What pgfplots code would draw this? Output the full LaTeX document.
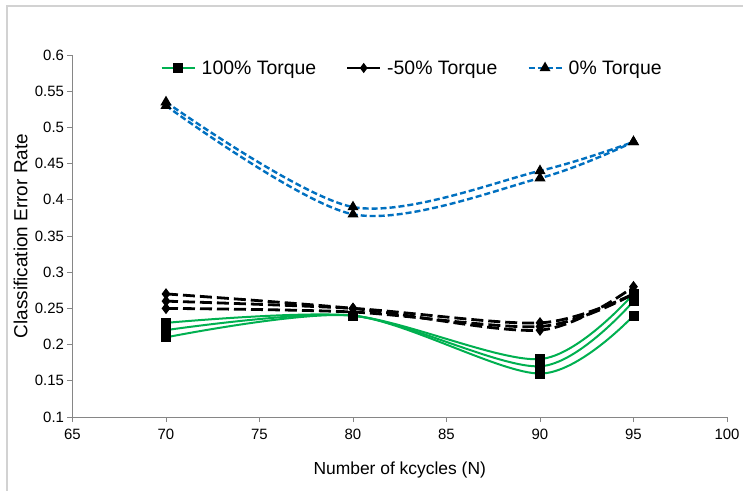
\documentclass[border=0pt]{standalone}
\usepackage{pgfplots}
\pgfplotsset{compat=1.18}
\usepackage{fontspec}
\setmainfont{Liberation Sans}

\definecolor{grnline}{RGB}{0,176,80}
\definecolor{blueline}{RGB}{0,112,192}
\definecolor{axisgray}{RGB}{134,134,134}

\begin{document}
\begin{tikzpicture}
\path[use as bounding box] (-72.5bp,-74bp) rectangle (670.5bp,417bp);
% outer chart frame
\draw[gray!35, line width=1.2bp] (-65.5bp,-90bp) -- (-65.5bp,411bp) -- (690bp,411bp);
\begin{axis}[
  scale only axis, width=654.5bp, height=362bp,
  at={(0,0)}, anchor=south west,
  xmin=65, xmax=100, ymin=0.1, ymax=0.6,
  xtick={65,70,75,80,85,90,95,100},
  ytick={0.1,0.15,0.2,0.25,0.3,0.35,0.4,0.45,0.5,0.55,0.6},
  axis x line*=bottom, axis y line*=left,
  axis line style={draw=axisgray, line width=0.9bp, -},
  tick align=outside, major tick length=5bp,
  tick style={draw=axisgray, line width=0.8bp},
  /pgf/number format/assume math mode=true,
  yticklabel style={/pgf/number format/fixed, /pgf/number format/precision=2, font=\fontsize{15}{15}\selectfont},
  xticklabel style={font=\fontsize{15}{15}\selectfont, yshift=-4bp},
  xlabel={Number of kcycles (N)},
  ylabel={Classification Error Rate},
  x label style={at={(axis description cs:0.5,-0.1464)}, anchor=center, font=\fontsize{17.5}{17.5}\selectfont},
  y label style={at={(axis description cs:-0.0794,0.5)}, anchor=center, rotate=0, font=\fontsize{19}{19}\selectfont},
  legend columns=3,
  legend style={at={(axis description cs:0.519,0.964)}, anchor=center, draw=none, fill=none,
    font=\fontsize{19.5}{19.5}\selectfont,
    /tikz/every odd column/.append style={column sep=4bp},
    /tikz/every even column/.append style={column sep=28bp}},
  legend image code/.code={%
    \draw[mark repeat=2, mark phase=2, #1] plot coordinates {(0bp,0bp) (16.5bp,0bp) (33bp,0bp)};},
]
% 100% Torque
\addplot[grnline, line width=2bp, smooth, mark=square*, mark size=4bp, mark options={black, fill=black, solid}]
  coordinates {(70,0.21) (80,0.24) (90,0.16) (95,0.24)};
\addlegendentry{100\% Torque}
\addplot[grnline, line width=2bp, smooth, mark=square*, mark size=4bp, mark options={black, fill=black, solid}, forget plot]
  coordinates {(70,0.22) (80,0.24) (90,0.17) (95,0.26)};
\addplot[grnline, line width=2bp, smooth, mark=square*, mark size=4bp, mark options={black, fill=black, solid}, forget plot]
  coordinates {(70,0.23) (80,0.24) (90,0.18) (95,0.27)};
% -50% Torque
\addplot[black, line width=2.8bp, smooth, dash pattern=on 12bp off 5bp, mark=diamond*, mark size=3.5bp, mark options={black, fill=black, solid},
  legend image post style={solid, line width=2bp}]
  coordinates {(70,0.27) (80,0.25) (90,0.22) (95,0.28)};
\addlegendentry{-50\% Torque}
\addplot[black, line width=2.8bp, smooth, dash pattern=on 12bp off 5bp, mark=diamond*, mark size=3.5bp, mark options={black, fill=black, solid}, forget plot]
  coordinates {(70,0.26) (80,0.25) (90,0.23) (95,0.27)};
\addplot[black, line width=2.8bp, smooth, dash pattern=on 12bp off 5bp, mark=diamond*, mark size=3.5bp, mark options={black, fill=black, solid}, forget plot]
  coordinates {(70,0.25) (80,0.245) (90,0.225) (95,0.27)};
% 0% Torque
\addplot[blueline, line width=2.4bp, smooth, dash pattern=on 6bp off 3bp, mark=triangle*, mark size=4bp, mark options={black, fill=black, solid}]
  coordinates {(70,0.53) (80,0.38) (90,0.43) (95,0.48)};
\addlegendentry{0\% Torque}
\addplot[blueline, line width=2.4bp, smooth, dash pattern=on 6bp off 3bp, mark=triangle*, mark size=4bp, mark options={black, fill=black, solid}, forget plot]
  coordinates {(70,0.535) (80,0.39) (90,0.44) (95,0.48)};
\end{axis}
\end{tikzpicture}
\end{document}
